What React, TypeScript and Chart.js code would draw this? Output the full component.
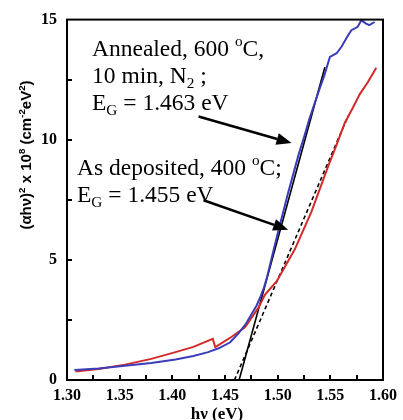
import React, { useEffect, useRef } from "react";
import { Chart, registerables } from "chart.js";

Chart.register(...registerables);

// Photon energy (eV) and (αhν)² ×10^8 values
const annealedX = [1.307, 1.33, 1.355, 1.38, 1.403, 1.42, 1.434, 1.444, 1.455, 1.463, 1.47, 1.475, 1.48, 1.484, 1.487, 1.49, 1.495, 1.5, 1.505, 1.51, 1.515, 1.52, 1.525, 1.53, 1.535, 1.54, 1.5445, 1.5465, 1.5496, 1.556, 1.5606, 1.5669, 1.57, 1.576, 1.5794, 1.584, 1.587, 1.592];
const annealedY = [0.42, 0.48, 0.59, 0.71, 0.85, 1.0, 1.16, 1.32, 1.57, 1.95, 2.35, 2.73, 3.1, 3.5, 3.85, 4.3, 5.2, 6.1, 6.95, 7.8, 8.6, 9.4, 10.1, 10.85, 11.5, 12.15, 12.7, 13.0, 13.45, 13.6, 13.87, 14.35, 14.56, 14.7, 14.97, 14.83, 14.77, 14.9];

const depositedX = [1.308, 1.33, 1.355, 1.38, 1.403, 1.42, 1.4384, 1.4407, 1.4438, 1.4564, 1.469, 1.4816, 1.488, 1.499, 1.5164, 1.532, 1.548, 1.556, 1.5637, 1.571, 1.578, 1.5857, 1.5936];
const depositedY = [0.35, 0.46, 0.64, 0.88, 1.16, 1.38, 1.71, 1.37, 1.45, 1.8, 2.19, 3.0, 3.56, 4.1, 5.45, 7.0, 8.9, 9.8, 10.7, 11.3, 11.9, 12.4, 13.0];

const fitAnnealedX = [1.4634, 1.5448];
const fitAnnealedY = [0, 13.02];
const fitDepositedX = [1.459, 1.567];
const fitDepositedY = [0, 11.0];

// arrows: [x, y] in data units
const arrowAnnealedFrom = [1.4249, 10.97];
const arrowAnnealedTo = [1.5132, 9.86];
const arrowDepositedFrom = [1.4296, 7.48];
const arrowDepositedTo = [1.51, 6.25];

const xMin = 1.3;
const xMax = 1.6;
const xStep = 0.025;
const yMin = 0;
const yMax = 15;
const yStep = 2.5;

type Part = { t: string; sup?: boolean; sub?: boolean };

const annotationLines: Part[][] = [
  [{ t: "Annealed, 600 " }, { t: "o", sup: true }, { t: "C," }],
  [{ t: "10 min, N" }, { t: "2", sub: true }, { t: " ;" }],
  [{ t: "E" }, { t: "G", sub: true }, { t: " = 1.463 eV" }],
  [{ t: "As deposited, 400 " }, { t: "o", sup: true }, { t: "C;" }],
  [{ t: "E" }, { t: "G", sub: true }, { t: " = 1.455 eV" }],
];

const yTitle: Part[] = [
  { t: "(αhν)" },
  { t: "2", sup: true },
  { t: " x 10" },
  { t: "8", sup: true },
  { t: " (cm" },
  { t: "-2", sup: true },
  { t: "eV" },
  { t: "2", sup: true },
  { t: ")" },
];

const xTitle = "hν (eV)";

function toPoints(xs: number[], ys: number[]) {
  return xs.map((x, i) => ({ x, y: ys[i] }));
}

function richWidth(ctx: CanvasRenderingContext2D, parts: Part[], size: number, family: string, weight: string) {
  let w = 0;
  for (const p of parts) {
    const s = p.sup || p.sub ? size * 0.65 : size;
    ctx.font = `${weight} ${s}px ${family}`;
    w += ctx.measureText(p.t).width;
  }
  return w;
}

function drawRich(ctx: CanvasRenderingContext2D, parts: Part[], x: number, y: number, size: number, family: string, weight: string) {
  let cx = x;
  for (const p of parts) {
    const s = p.sup || p.sub ? size * 0.65 : size;
    ctx.font = `${weight} ${s}px ${family}`;
    const dy = p.sup ? -size * 0.4 : p.sub ? size * 0.22 : 0;
    ctx.fillText(p.t, cx, y + dy);
    cx += ctx.measureText(p.t).width;
  }
}

const decorations = {
  id: "decorations",
  afterDatasetsDraw(chart: any) {
    const { ctx, chartArea: a, scales } = chart;
    const xs = scales.x;
    const ys = scales.y;
    ctx.save();
    ctx.strokeStyle = "#000";
    ctx.fillStyle = "#000";
    ctx.lineWidth = 2;
    ctx.strokeRect(a.left, a.top, a.right - a.left, a.bottom - a.top);

    // inward ticks
    ctx.lineWidth = 2;
    xs.ticks.forEach((t: any) => {
      const px = Math.round(xs.getPixelForValue(t.value));
      if (px <= a.left + 1 || px >= a.right - 1) return;
      ctx.beginPath();
      ctx.moveTo(px, a.bottom);
      ctx.lineTo(px, a.bottom - 5);
      ctx.stroke();
    });
    ys.ticks.forEach((t: any) => {
      const py = Math.round(ys.getPixelForValue(t.value));
      if (py <= a.top + 1 || py >= a.bottom - 1) return;
      ctx.beginPath();
      ctx.moveTo(a.left, py);
      ctx.lineTo(a.left + 5, py);
      ctx.stroke();
    });

    // arrows
    const arrow = (from: number[], to: number[]) => {
      const x1 = xs.getPixelForValue(from[0]);
      const y1 = ys.getPixelForValue(from[1]);
      const x2 = xs.getPixelForValue(to[0]);
      const y2 = ys.getPixelForValue(to[1]);
      const ang = Math.atan2(y2 - y1, x2 - x1);
      const hl = 15;
      const hw = 6;
      const bx = x2 - hl * Math.cos(ang);
      const by = y2 - hl * Math.sin(ang);
      ctx.lineWidth = 2.5;
      ctx.beginPath();
      ctx.moveTo(x1, y1);
      ctx.lineTo(bx, by);
      ctx.stroke();
      ctx.beginPath();
      ctx.moveTo(x2, y2);
      ctx.lineTo(bx + hw * Math.sin(ang), by - hw * Math.cos(ang));
      ctx.lineTo(bx - hw * Math.sin(ang), by + hw * Math.cos(ang));
      ctx.closePath();
      ctx.fill();
    };
    arrow(arrowAnnealedFrom, arrowAnnealedTo);
    arrow(arrowDepositedFrom, arrowDepositedTo);

    // annotation text
    const serif = '"Liberation Serif", "Times New Roman", serif';
    ctx.textBaseline = "alphabetic";
    ctx.textAlign = "left";
    const lx = [a.left + 25, a.left + 25, a.left + 25, a.left + 10, a.left + 10];
    const ly = [a.top + 36, a.top + 63, a.top + 90, a.top + 155, a.top + 182];
    annotationLines.forEach((ln, i) => drawRich(ctx, ln, lx[i], ly[i], 23.5, serif, "normal"));

    // y-axis title
    const sans = '"Liberation Sans", Arial, sans-serif';
    const tw = richWidth(ctx, yTitle, 15, sans, "bold");
    ctx.translate(31, 155);
    ctx.rotate(-Math.PI / 2);
    drawRich(ctx, yTitle, -tw / 2, 0, 15, sans, "bold");
    ctx.restore();

    // x title
    ctx.save();
    ctx.font = `bold 17px ${serif}`;
    ctx.textAlign = "center";
    ctx.textBaseline = "alphabetic";
    ctx.fillStyle = "#000";
    ctx.fillText(xTitle, (a.left + a.right) / 2 - 8, 419);
    ctx.restore();
  },
};

export default function App() {
  const ref = useRef<HTMLCanvasElement>(null);
  useEffect(() => {
    if (!ref.current) return;
    const serif = '"Liberation Serif", "Times New Roman", serif';
    const chart = new Chart(ref.current, {
      type: "line",
      data: {
        datasets: [
          {
            label: "Annealed",
            data: toPoints(annealedX, annealedY),
            borderColor: "#3a3cb8",
            borderWidth: 2,
            pointRadius: 0,
            tension: 0,
          },
          {
            label: "As deposited",
            data: toPoints(depositedX, depositedY),
            borderColor: "#d42a2a",
            borderWidth: 2,
            pointRadius: 0,
            tension: 0,
          },
          {
            label: "Fit annealed",
            data: toPoints(fitAnnealedX, fitAnnealedY),
            borderColor: "#000",
            borderWidth: 1.6,
            pointRadius: 0,
          },
          {
            label: "Fit deposited",
            data: toPoints(fitDepositedX, fitDepositedY),
            borderColor: "#000",
            borderWidth: 1.6,
            borderDash: [4, 3],
            pointRadius: 0,
          },
        ],
      },
      options: {
        responsive: false,
        animation: false,
        parsing: false,
        layout: { padding: { top: 15, right: 18, left: 0, bottom: 0 } },
        plugins: { legend: { display: false }, tooltip: { enabled: false } },
        scales: {
          x: {
            type: "linear",
            min: xMin,
            max: xMax,
            afterFit: (s: any) => {
              s.height = 40;
            },
            grid: { display: false, drawTicks: false },
            border: { display: false },
            ticks: {
              stepSize: xStep,
              autoSkip: false,
              maxRotation: 0,
              padding: 6,
              color: "#000",
              font: { family: serif, size: 16, weight: "bold" },
              callback: (v: any) => {
                const n = Number(v);
                return Math.abs(n * 20 - Math.round(n * 20)) < 1e-6 ? n.toFixed(2) : "";
              },
            },
          },
          y: {
            type: "linear",
            min: yMin,
            max: yMax,
            afterFit: (s: any) => {
              s.width = 67;
            },
            grid: { display: false, drawTicks: false },
            border: { display: false },
            ticks: {
              stepSize: yStep,
              autoSkip: false,
              padding: 10,
              color: "#000",
              font: { family: serif, size: 16, weight: "bold" },
              callback: (v: any) => {
                const n = Number(v);
                return Math.abs(n / 5 - Math.round(n / 5)) < 1e-6 ? String(Math.round(n)) : "";
              },
            },
          },
        },
      },
      plugins: [decorations],
    });
    return () => chart.destroy();
  }, []);
  return (
    <div style={{ position: "fixed", left: 0, top: 0, width: 403, height: 420, background: "#fff" }}>
      <canvas ref={ref} width={403} height={420} style={{ width: 403, height: 420, display: "block" }} />
    </div>
  );
}
